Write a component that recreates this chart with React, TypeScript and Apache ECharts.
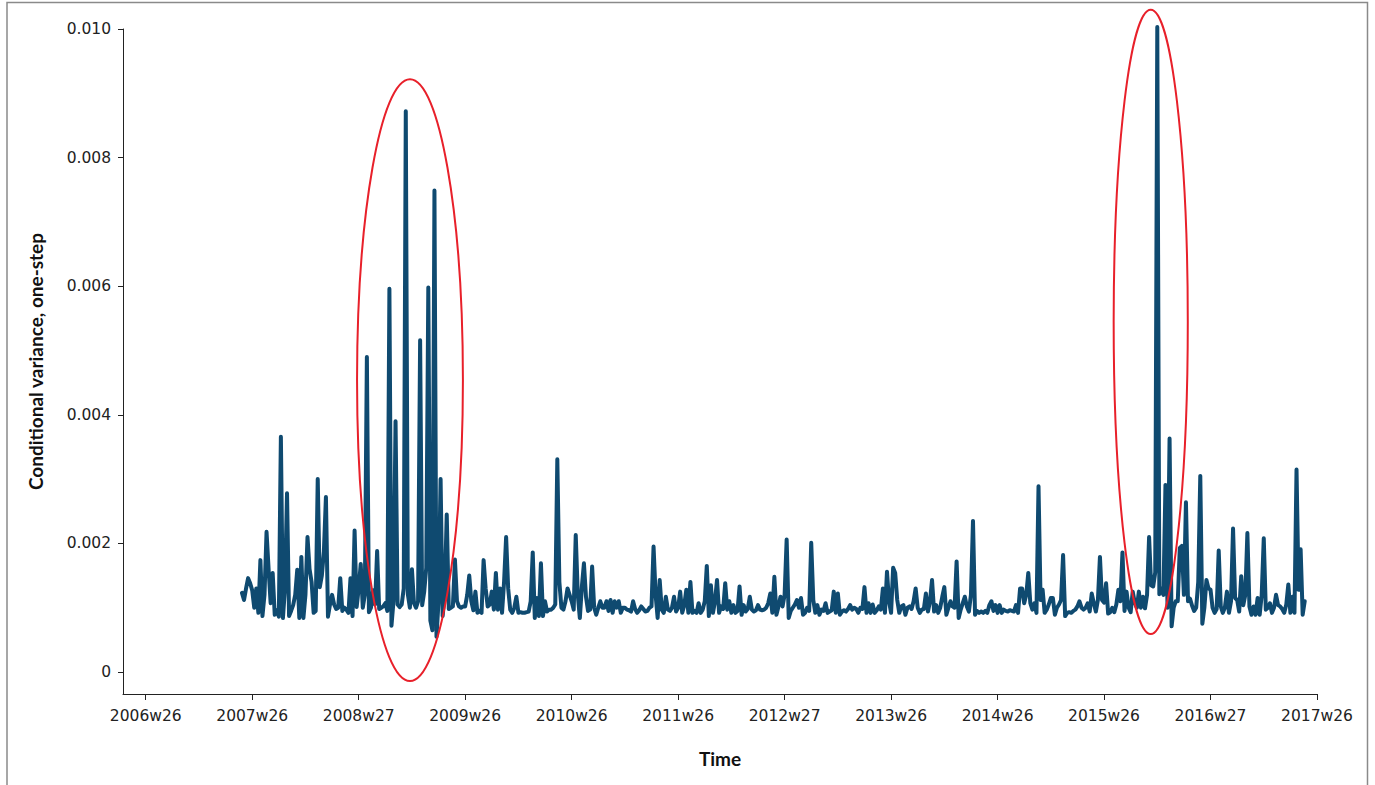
import React, { useEffect, useRef } from "react";
import * as echarts from "echarts";

// x axis: weeks counted from 2006w26
const tickWeeks = [0, 52, 104, 156, 208, 260, 312, 364, 416, 468, 520, 572];
const tickLabels = [
  "2006w26", "2007w26", "2008w27", "2009w26", "2010w26", "2011w26",
  "2012w27", "2013w26", "2014w26", "2015w26", "2016w27", "2017w26",
];
const yTicks = [0, 0.002, 0.004, 0.006, 0.008, 0.01];

// first observation (weeks after 2006w26)
const firstWeek = 47;

// Conditional variance (one-step), in units of 0.001, one value per week
const varianceE3 = [
  // 2007
  1.23, 1.12, 1.30, 1.46, 1.38, 1.27, 1.00, 1.30, 0.92, 1.74,
  0.87, 1.20, 2.18, 1.60, 1.07, 1.54, 0.89, 0.96, 0.86, 3.66,
  0.84, 1.30, 2.78, 0.87, 0.95, 1.04, 1.20, 1.59, 0.84, 1.79,
  0.84, 1.20, 2.10, 1.60, 1.40, 0.92, 0.95, 3.00, 1.32, 1.50,
  1.87, 2.72, 0.86, 1.05, 1.20, 1.05, 0.98, 1.00, 1.46, 0.95,
  1.00, 0.97, 0.92, 1.46, 0.87, 2.20,
  // 2008-2009
  1.01, 1.30, 1.68, 1.00, 1.20, 4.90, 0.93, 1.00, 1.27, 1.05,
  1.88, 0.98, 1.00, 1.02, 1.07, 0.95, 5.96, 0.72, 1.10, 3.90,
  1.05, 1.01, 1.05, 1.30, 8.72, 1.21, 1.00, 1.60, 1.07, 1.00,
  1.10, 5.16, 1.04, 1.25, 1.62, 5.98, 0.80, 0.65, 7.49, 0.55,
  1.10, 3.00, 0.87, 1.20, 2.45, 0.98, 1.00, 1.02, 1.75, 1.10,
  1.02, 1.00, 1.02, 1.02, 1.20,
  // 2009-2010
  1.50, 1.10, 0.96, 1.25, 0.92, 0.95, 0.92, 1.74, 1.30, 1.02,
  1.05, 1.25, 0.97, 1.54, 0.97, 1.30, 0.92, 1.40, 2.10, 1.30,
  0.97, 0.92, 1.00, 1.17, 0.92, 0.93, 0.92, 0.92, 0.93, 0.94,
  1.10, 1.86, 0.84, 1.15, 0.87, 1.69, 0.87, 1.10, 0.94, 0.97,
  0.97, 1.00, 1.05, 3.31, 1.40, 1.00, 0.97, 1.10, 1.30, 1.20,
  1.10,
  // 2010-2011
  0.97, 2.13, 1.20, 0.84, 1.33, 1.69, 1.17, 0.95, 0.97, 1.64,
  1.00, 0.89, 1.00, 1.10, 1.00, 1.00, 1.10, 0.95, 1.12, 0.92,
  1.10, 1.00, 1.10, 0.92, 1.00, 1.00, 0.97, 0.96, 0.94, 1.10,
  0.98, 0.92, 0.96, 1.02, 0.98, 0.94, 0.95, 1.00, 1.02, 1.95,
  1.20, 0.84, 1.43, 0.97, 0.92, 1.17, 0.97, 0.95, 1.00, 1.17,
  0.94, 1.00, 1.25,
  // 2011-2012
  0.92, 1.04, 1.28, 0.92, 1.40, 0.92, 0.95, 0.92, 1.07, 0.92,
  0.97, 1.10, 1.65, 0.87, 1.35, 0.92, 1.10, 1.43, 0.92, 1.02,
  0.98, 1.38, 0.97, 1.10, 0.92, 1.04, 0.92, 0.95, 1.33, 0.89,
  1.04, 0.94, 0.98, 1.17, 0.97, 0.94, 0.96, 1.04, 0.97, 0.96,
  0.97, 1.00, 1.07, 1.22, 0.92, 1.48, 0.89, 1.02, 1.17, 1.02,
  1.20, 2.06,
  // 2012-2013
  0.84, 0.95, 1.00, 1.05, 1.12, 1.00, 1.15, 0.89, 0.92, 1.00,
  0.95, 2.01, 1.12, 0.92, 1.04, 0.89, 0.97, 0.95, 1.07, 0.92,
  0.94, 0.96, 1.25, 0.92, 1.22, 0.89, 0.94, 0.96, 0.94, 0.98,
  1.04, 0.97, 1.00, 0.98, 0.92, 1.00, 0.98, 1.32, 0.92, 1.07,
  0.92, 1.05, 0.92, 0.96, 1.02, 0.97, 1.30, 0.92, 1.56, 1.10,
  0.92, 1.62,
  // 2013-2014
  1.54, 1.12, 0.92, 1.02, 1.04, 0.89, 1.00, 1.02, 0.98, 1.10,
  1.30, 1.00, 0.92, 0.97, 0.98, 1.22, 0.94, 1.10, 1.43, 0.94,
  1.04, 0.92, 1.00, 1.17, 1.32, 0.89, 1.00, 1.10, 1.02, 1.00,
  1.72, 0.84, 0.97, 1.07, 1.17, 1.02, 0.94, 1.20, 2.35, 0.89,
  0.95, 0.92, 0.94, 0.92, 0.95, 0.92, 1.04, 1.10, 0.95,
  // 2014-2015
  1.04, 0.92, 1.04, 0.92, 0.97, 0.95, 0.94, 0.96, 0.95, 0.94,
  1.04, 0.92, 1.30, 1.30, 1.07, 1.20, 1.54, 1.07, 0.97, 1.07,
  0.92, 2.89, 1.12, 1.28, 0.92, 0.97, 1.05, 1.15, 1.15, 0.89,
  1.00, 1.05, 1.12, 1.82, 0.87, 0.92, 0.93, 0.92, 0.95, 0.97,
  1.02, 1.10, 1.00, 0.97, 1.00, 1.07, 0.94, 1.22, 1.07, 0.94,
  1.12,
  // 2015-2016
  1.79, 1.12, 1.08, 1.38, 0.91, 0.93, 1.00, 0.93, 1.05, 1.28,
  1.10, 1.86, 0.95, 1.25, 1.00, 0.93, 1.25, 1.08, 1.00, 1.25,
  1.00, 1.17, 0.99, 1.20, 2.10, 1.35, 1.33, 1.55, 10.03, 1.21,
  1.30, 1.20, 2.91, 1.00, 3.63, 0.71, 1.00, 1.10, 1.10, 1.93,
  1.96, 1.20, 2.64, 1.10, 1.14, 1.03, 0.95, 1.00, 1.40, 3.05,
  0.75, 1.00, 1.43,
  // 2016-2017
  1.30, 1.28, 1.00, 0.92, 0.98, 1.89, 1.02, 0.92, 1.00, 1.25,
  0.92, 1.10, 2.23, 1.15, 1.12, 0.94, 1.49, 1.04, 1.20, 2.16,
  1.02, 0.89, 1.02, 0.89, 1.15, 0.89, 1.20, 2.08, 0.97, 1.00,
  1.07, 0.92, 1.00, 1.20, 1.04, 1.02, 0.98, 0.92, 1.05, 1.36,
  0.92, 1.17, 0.92, 3.15, 1.28, 1.91, 0.89, 1.10,
];

// highlighted periods (red ellipses): week range and variance range
const highlightWeeksFrom = [103.2, 472.7];
const highlightWeeksTo = [154.9, 508.9];
const highlightLow = [-0.00014, 0.00059];
const highlightHigh = [0.00922, 0.0103];

export default function App() {
  const ref = useRef<HTMLDivElement>(null);

  useEffect(() => {
    if (!ref.current) return;
    document.body.style.margin = "0";
    const chart = echarts.init(ref.current, undefined, { renderer: "svg" });

    const data = varianceE3.map((v, i) => [firstWeek + i, v / 1000]);
    const tickColor = "#222";
    const titleStyle = { fontFamily: "Lato", fontWeight: "bold", fontSize: 19, color: "#111" };

    chart.setOption({
      animation: false,
      backgroundColor: "#fff",
      grid: { left: 123, right: 58, top: 29, bottom: 91, containLabel: false },
      xAxis: {
        type: "value",
        min: -11.1,
        max: 572,
        name: "Time",
        nameLocation: "middle",
        nameGap: 55,
        nameTextStyle: titleStyle,
        axisLine: { show: true, onZero: false, lineStyle: { color: tickColor, width: 1 } },
        axisTick: { show: true, customValues: tickWeeks, length: 6, lineStyle: { color: tickColor } },
        axisLabel: {
          customValues: tickWeeks,
          formatter: (v: number) => tickLabels[Math.round(v / 52)] ?? "",
          margin: 14,
          fontFamily: "DejaVu Sans",
          fontSize: 15.5,
          color: tickColor,
        },
        splitLine: { show: false },
      },
      yAxis: {
        type: "value",
        min: -0.000342,
        max: 0.01,
        name: "Conditional variance, one-step",
        nameLocation: "middle",
        nameGap: 78,
        nameRotate: 90,
        nameTextStyle: titleStyle,
        axisLine: { show: true, onZero: false, lineStyle: { color: tickColor, width: 1 } },
        axisTick: { show: true, customValues: yTicks, length: 5, lineStyle: { color: tickColor } },
        axisLabel: {
          customValues: yTicks,
          formatter: (v: number) => (Math.abs(v) < 1e-12 ? "0" : v.toFixed(3)),
          margin: 12,
          fontFamily: "DejaVu Sans",
          fontSize: 15.5,
          color: tickColor,
        },
        splitLine: { show: false },
      },
      series: [
        {
          type: "line",
          data,
          symbol: "none",
          showSymbol: false,
          smooth: false,
          clip: false,
          lineStyle: { color: "#0f4a70", width: 4, join: "round", cap: "round" },
        },
      ],
    });

    const ellipses = highlightWeeksFrom.map((from, i) => {
      const p1 = chart.convertToPixel({ gridIndex: 0 }, [from, highlightHigh[i]]) as number[];
      const p2 = chart.convertToPixel({ gridIndex: 0 }, [highlightWeeksTo[i], highlightLow[i]]) as number[];
      return {
        type: "ellipse",
        shape: {
          cx: (p1[0] + p2[0]) / 2,
          cy: (p1[1] + p2[1]) / 2,
          rx: Math.abs(p2[0] - p1[0]) / 2,
          ry: Math.abs(p2[1] - p1[1]) / 2,
        },
        style: { fill: "none", stroke: "#e8202a", lineWidth: 2 },
        z: 100,
      };
    });

    chart.setOption({
      graphic: [
        {
          type: "rect",
          shape: { x: 7, y: 2.5, width: 1360.5, height: 800 },
          style: { fill: "none", stroke: "#8a8a8a", lineWidth: 1.5 },
          silent: true,
          z: 0,
        },
        ...ellipses,
      ],
    });

    return () => chart.dispose();
  }, []);

  return (
    <div
      ref={ref}
      style={{ position: "absolute", left: 0, top: 0, width: 1375, height: 785 }}
    />
  );
}
